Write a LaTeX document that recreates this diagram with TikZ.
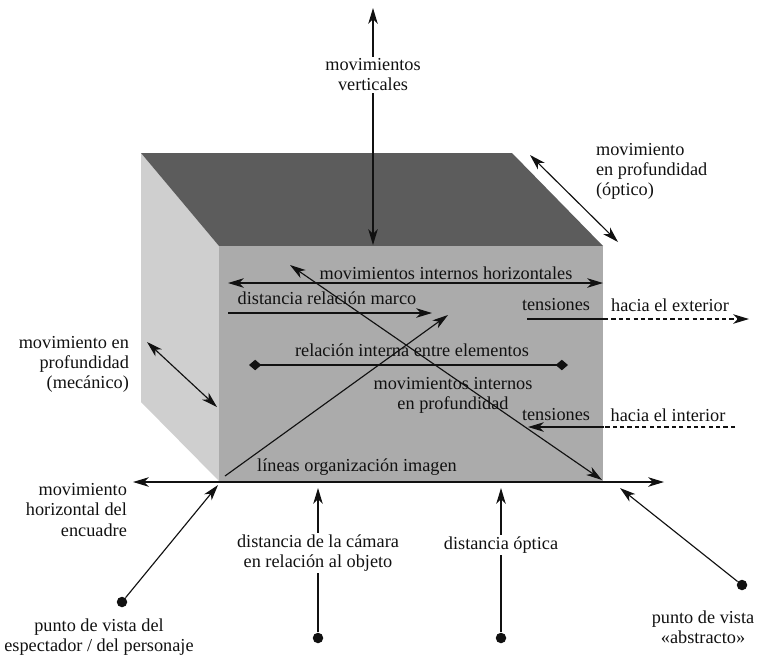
\documentclass[tikz,border=0pt]{standalone}
\usepackage{fontspec}
\setmainfont{Liberation Serif}
\newfontfamily\timesfont{Liberation Serif}
\usetikzlibrary{arrows.meta}
\definecolor{ink}{HTML}{111111}
\definecolor{topgray}{HTML}{5C5C5C}
\definecolor{frontgray}{HTML}{ABABAB}
\definecolor{sidegray}{HTML}{CFCFCF}
\tikzset{
  >={Stealth[length=9pt,width=5.4pt,inset=2.6pt]},
  lbl/.style={font=\timesfont\fontsize{10.4}{11.4}\selectfont, text=ink, inner sep=1pt, align=center},
  lblleft/.style={lbl, align=left, anchor=west},
  lblright/.style={lbl, align=right, anchor=east},
  move/.style={->, draw=ink, line width=0.65pt},
  twoway/.style={<->, draw=ink, line width=0.65pt},
  plain/.style={draw=ink, line width=0.65pt},
  outside/.style={draw=ink, line width=0.65pt, dash pattern=on 2.4pt off 1.8pt},
  elemline/.style={{Diamond[length=7pt,width=6pt]}-{Diamond[length=7pt,width=6pt]}, draw=ink, line width=0.65pt},
  viewpt/.style={circle, fill=ink, minimum size=0.21cm, inner sep=0pt}
}

\begin{document}
\begin{tikzpicture}[x=0.02cm,y=-0.02cm]
\useasboundingbox (0,0) rectangle (763,657);

% the box: side, top and front faces
\coordinate (fbl) at (219,481); \coordinate (fbr) at (603,481);
\coordinate (ftl) at (219,246); \coordinate (ftr) at (603,246);
\coordinate (btl) at (141,153); \coordinate (btr) at (512,153);
\coordinate (bbl) at (141,402);
\fill[sidegray] (btl)--(ftl)--(fbl)--(bbl)--cycle;
\fill[topgray] (btl)--(btr)--(ftr)--(ftl)--cycle;
\fill[frontgray] (ftl)--(ftr)--(fbr)--(fbl)--cycle;

% vertical movement
\node[lbl] (lblvert) at (373,75) {movimientos\\verticales};
\coordinate (verttop) at (373,8);
\coordinate (vertbox) at (373,245);
\draw[move] (lblvert) -- (verttop);
\draw[move] (lblvert) -- (vertbox);

% depth, optical
\node[lblleft] (lbloptic) at (594,171) {movimiento\\en profundidad\\(óptico)};
\coordinate (optica) at (530,155); \coordinate (opticb) at (618,242);
\draw[twoway] (optica) -- (opticb);

% depth, mechanical
\node[lblright] (lblmech) at (131,364) {movimiento en\\profundidad\\(mecánico)};
\coordinate (mecha) at (147,342); \coordinate (mechb) at (217,407);
\draw[twoway] (mecha) -- (mechb);

% inside the front face
\node[lbl] (lblhoriz) at (446,273) {movimientos internos horizontales};
\coordinate (horiza) at (228,283); \coordinate (horizb) at (603,283);
\draw[twoway] (horiza) -- (horizb);
\node[lbl] (lblmarco) at (327,298) {distancia relación marco};
\coordinate (marcoa) at (228,313); \coordinate (marcob) at (432,313);
\draw[move] (marcoa) -- (marcob);
\node[lbl] (lblelem) at (412,350) {relación interna entre elementos};
\coordinate (elema) at (249,365); \coordinate (elemb) at (568,365);
\draw[elemline] (elema) -- (elemb);
\node[lbl] (lbldepth) at (453,395) {movimientos internos\\en profundidad};
\coordinate (deptha) at (290,265); \coordinate (depthb) at (602,480);
\draw[twoway] (deptha) -- (depthb);
\node[lbl] (lblorg) at (357,467) {líneas organización imagen};
\coordinate (orga) at (225,476); \coordinate (orgb) at (448,315);
\draw[move] (orga) -- (orgb);

% tensions
\node[lbl] (lbltenext) at (556,305) {tensiones};
\node[lbl] (lblext) at (670,305) {hacia el exterior};
\coordinate (exta) at (527,319); \coordinate (extedge) at (604,319); \coordinate (extb) at (749,319);
\draw[plain] (exta) -- (extedge);
\draw[outside, ->] (extedge) -- (extb);
\node[lbl] (lbltenint) at (556,415) {tensiones};
\node[lbl] (lblint) at (668,415) {hacia el interior};
\coordinate (inta) at (735,427); \coordinate (intedge) at (604,427); \coordinate (intb) at (528,427);
\draw[outside] (inta) -- (intedge);
\draw[move] (intedge) -- (intb);

% frame line
\node[lblright] (lblframe) at (129,510) {movimiento\\horizontal del\\encuadre};
\coordinate (framea) at (133,482); \coordinate (frameb) at (664,482);
\draw[twoway] (framea) -- (frameb);

% points of view and distances
\node[viewpt] (pvesp) at (122,602) {};
\node[lbl] (lblesp) at (99,637) {punto de vista del\\espectador / del personaje};
\coordinate (esptip) at (218,485);
\draw[move] (pvesp) -- (esptip);

\node[viewpt] (pvcam) at (318,638) {};
\node[lbl] (lblcam) at (318,553) {distancia de la cámara\\en relación al objeto};
\coordinate (camtip) at (318,488);
\draw[move] (lblcam) -- (camtip);
\draw[plain] (pvcam) -- (lblcam);

\node[viewpt] (pvopt) at (501,638) {};
\node[lbl] (lblopt) at (501,545) {distancia óptica};
\coordinate (opttip) at (501,488);
\draw[move] (lblopt) -- (opttip);
\draw[plain] (pvopt) -- (lblopt);

\node[viewpt] (pvabs) at (742,585) {};
\node[lbl] (lblabs) at (703,627) {punto de vista\\«abstracto»};
\coordinate (abstip) at (620,488);
\draw[move] (pvabs) -- (abstip);
\end{tikzpicture}
\end{document}
